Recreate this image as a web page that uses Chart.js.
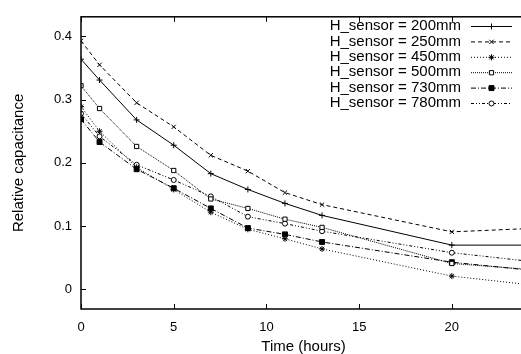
<!DOCTYPE html>
<html>
<head>
    <title>Relative capacitance vs time</title>
    <script src="https://cdn.jsdelivr.net/npm/chart.js"></script>
    <style>
        html, body { margin: 0; padding: 0; background: #fff; overflow: hidden; }
        #wrap { position: relative; width: 531px; height: 354px; }
    </style>
</head>
<body>
    <div id="wrap"><canvas id="capChart"></canvas></div>
    <script>
        // measurement times (hours)
        var hours = [0, 1, 3, 5, 7, 9, 11, 13, 20, 24];
        // relative capacitance per sensor height
        var h200 = [0.364, 0.331, 0.268, 0.228, 0.183, 0.158, 0.136, 0.117, 0.070, 0.070];
        var h250 = [0.393, 0.355, 0.295, 0.257, 0.212, 0.187, 0.153, 0.134, 0.091, 0.096];
        var h450 = [0.289, 0.250, 0.193, 0.158, 0.122, 0.095, 0.080, 0.064, 0.021, 0.008];
        var h500 = [0.322, 0.286, 0.226, 0.188, 0.143, 0.128, 0.111, 0.098, 0.041, 0.032];
        var h730 = [0.269, 0.233, 0.190, 0.160, 0.128, 0.097, 0.087, 0.075, 0.043, 0.031];
        var h780 = [0.278, 0.242, 0.197, 0.173, 0.147, 0.115, 0.104, 0.092, 0.058, 0.045];
        var labels = ['H_sensor = 200mm', 'H_sensor = 250mm', 'H_sensor = 450mm',
                      'H_sensor = 500mm', 'H_sensor = 730mm', 'H_sensor = 780mm'];
        var xTicks = [0, 5, 10, 15, 20];
        var yTicks = [0, 0.1, 0.2, 0.3, 0.4];

        function pts(vals) {
            return hours.map(function (h, i) { return { x: h, y: vals[i] }; });
        }

        var styles = [
            { dash: [], point: 'cross', bg: '#000', r: 3 },
            { dash: [4, 3], point: 'crossRot', bg: '#000', r: 3 },
            { dash: [1, 2], point: 'star', bg: '#000', r: 3 },
            { dash: [1, 1], point: 'rect', bg: '#fff', r: 3 },
            { dash: [5, 2, 1, 2], point: 'rect', bg: '#000', r: 3.5 },
            { dash: [3, 2, 1, 2, 1, 2], point: 'circle', bg: '#fff', r: 2.5 }
        ];
        var series = [h200, h250, h450, h500, h730, h780];

        var datasets = series.map(function (vals, i) {
            var s = styles[i];
            return {
                label: labels[i],
                data: pts(vals),
                borderColor: '#000',
                borderWidth: 1,
                borderDash: s.dash,
                pointStyle: s.point,
                pointRadius: s.r,
                pointBorderWidth: 1,
                pointBorderColor: '#000',
                pointBackgroundColor: s.bg,
                tension: 0,
                fill: false
            };
        });

        var font = { family: "'Liberation Sans', Arial, sans-serif", size: 13 };
        var titleFont = { family: "'Liberation Sans', Arial, sans-serif", size: 15 };

        // frame with inward ticks, gnuplot style
        var framePlugin = {
            id: 'frame',
            afterDraw: function (chart) {
                var ctx = chart.ctx, a = chart.chartArea;
                var xs = chart.scales.x, ys = chart.scales.y;
                ctx.save();
                ctx.strokeStyle = '#000';
                ctx.lineWidth = 1.5;
                ctx.setLineDash([]);
                ctx.strokeRect(a.left, a.top, a.right - a.left, a.bottom - a.top);
                ctx.lineWidth = 1;
                ctx.beginPath();
                xTicks.forEach(function (v) {
                    var px = Math.round(xs.getPixelForValue(v)) + 0.5;
                    ctx.moveTo(px, a.bottom); ctx.lineTo(px, a.bottom - 5);
                    ctx.moveTo(px, a.top); ctx.lineTo(px, a.top + 5);
                });
                yTicks.forEach(function (v) {
                    var py = Math.round(ys.getPixelForValue(v)) + 0.5;
                    ctx.moveTo(a.left, py); ctx.lineTo(a.left + 5, py);
                    ctx.moveTo(a.right, py); ctx.lineTo(a.right - 5, py);
                });
                ctx.stroke();
                ctx.restore();
            }
        };

        // key in the top right corner: text, then sample line with marker
        var keyPlugin = {
            id: 'key',
            afterDraw: function (chart) {
                var ctx = chart.ctx;
                ctx.save();
                ctx.font = titleFont.size + 'px ' + titleFont.family;
                ctx.textAlign = 'right';
                ctx.textBaseline = 'middle';
                chart.data.datasets.forEach(function (ds, i) {
                    var y = 26 + i * 15.4;
                    ctx.fillStyle = '#000';
                    ctx.fillText(ds.label, 461, y);
                    ctx.strokeStyle = '#000';
                    ctx.lineWidth = 1;
                    ctx.setLineDash(ds.borderDash);
                    ctx.beginPath();
                    ctx.moveTo(471, y + 0.5); ctx.lineTo(512, y + 0.5);
                    ctx.stroke();
                    ctx.setLineDash([]);
                    ctx.fillStyle = ds.pointBackgroundColor;
                    Chart.helpers.drawPoint(ctx, {
                        pointStyle: ds.pointStyle, radius: ds.pointRadius,
                        rotation: 0, borderWidth: 1
                    }, 491.5, y + 0.5);
                });
                ctx.restore();
            }
        };

        var ctx = document.getElementById('capChart').getContext('2d');
        var capChart = new Chart(ctx, {
            type: 'line',
            data: { datasets: datasets },
            options: {
                responsive: true,
                maintainAspectRatio: false,
                animation: false,
                layout: { padding: { top: 13, right: 0, left: 0, bottom: 0 } },
                plugins: { legend: { display: false }, tooltip: { enabled: false } },
                scales: {
                    x: {
                        type: 'linear',
                        min: 0,
                        max: 24,
                        grid: { display: false, drawTicks: false },
                        border: { display: false },
                        afterBuildTicks: function (scale) {
                            scale.ticks = xTicks.map(function (v) { return { value: v }; });
                        },
                        afterFit: function (scale) { scale.height = 45; },
                        ticks: { color: '#000', font: font, padding: 11, maxRotation: 0, autoSkip: false },
                        title: { display: true, text: 'Time (hours)', color: '#000', font: titleFont,
                                 padding: { top: 0, bottom: -2 } }
                    },
                    y: {
                        min: -0.031,
                        max: 0.431,
                        grid: { display: false, drawTicks: false },
                        border: { display: false },
                        afterBuildTicks: function (scale) {
                            scale.ticks = yTicks.map(function (v) { return { value: v }; });
                        },
                        afterFit: function (scale) { scale.width = 81; },
                        ticks: {
                            color: '#000', font: font, padding: 9, autoSkip: false,
                            callback: function (v) { return v === 0 ? '0' : v.toFixed(1); }
                        },
                        title: { display: true, text: 'Relative capacitance', color: '#000', font: titleFont,
                                 padding: { top: 10, bottom: 0 } }
                    }
                }
            },
            plugins: [framePlugin, keyPlugin]
        });
    </script>
</body>
</html>
